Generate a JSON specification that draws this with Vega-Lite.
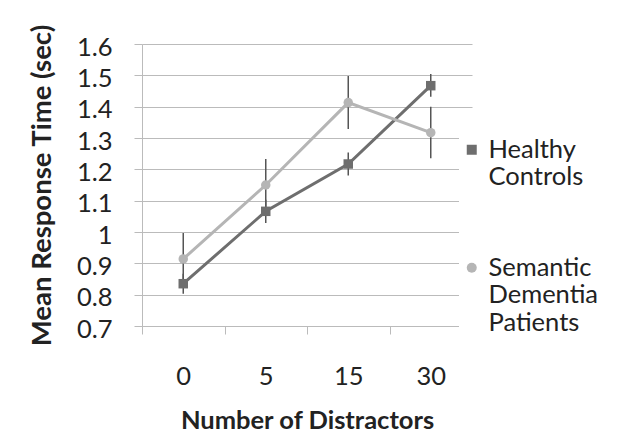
{
  "$schema": "https://vega.github.io/schema/vega-lite/v6.json",
  "width": 330,
  "height": 282,
  "autosize": "none",
  "padding": {"left": 142, "top": 44, "right": 146, "bottom": 110},
  "background": "white",
  "config": {
    "view": {"stroke": null},
    "font": "Lato",
    "axis": {"labelColor": "#222", "titleColor": "#222", "domainColor": "#bbb", "tickColor": "#bbb", "gridColor": "#bbb"},
    "axisY": {
      "values": [0.7, 0.8, 0.9, 1, 1.1, 1.2, 1.3, 1.4, 1.5, 1.6],
      "format": "~g",
      "labelOverlap": false,
      "tickSize": 8,
      "labelFontSize": 25.5,
      "labelPadding": 22,
      "labelOffset": 3,
      "titleFontSize": 27.5,
      "titleFontWeight": "bold",
      "titlePadding": 20
    }
  },
  "data": {
    "values": [
      {"group": "Healthy Controls", "distractors": "0", "mean": 0.835, "lo": 0.803, "hi": 0.867},
      {"group": "Healthy Controls", "distractors": "5", "mean": 1.066, "lo": 1.029, "hi": 1.103},
      {"group": "Healthy Controls", "distractors": "15", "mean": 1.217, "lo": 1.18, "hi": 1.254},
      {"group": "Healthy Controls", "distractors": "30", "mean": 1.467, "lo": 1.432, "hi": 1.504},
      {"group": "Semantic Dementia Patients", "distractors": "0", "mean": 0.914, "lo": 0.831, "hi": 0.997},
      {"group": "Semantic Dementia Patients", "distractors": "5", "mean": 1.15, "lo": 1.067, "hi": 1.233},
      {"group": "Semantic Dementia Patients", "distractors": "15", "mean": 1.413, "lo": 1.329, "hi": 1.498},
      {"group": "Semantic Dementia Patients", "distractors": "30", "mean": 1.317, "lo": 1.235, "hi": 1.4}
    ]
  },
  "encoding": {
    "x": {
      "field": "distractors",
      "type": "ordinal",
      "sort": ["0", "5", "15", "30"],
      "scale": {"paddingInner": 0, "paddingOuter": 0},
      "axis": {
        "title": "Number of Distractors",
        "labelAngle": 0,
        "tickBand": "extent",
        "tickSize": 8,
        "labelFontSize": 25.5,
        "labelPadding": 30,
        "titleFontSize": 25.5,
        "titleFontWeight": "bold",
        "titlePadding": 19
      }
    }
  },
  "layer": [
    {
      "mark": {"type": "rule", "color": "#555", "strokeWidth": 1.5},
      "encoding": {
        "y": {
          "field": "lo",
          "type": "quantitative",
          "scale": {"domain": [0.7, 1.6], "nice": false, "zero": false},
          "title": "Mean Response Time (sec)"
        },
        "y2": {"field": "hi"}
      }
    },
    {
      "mark": {"type": "line", "strokeWidth": 3},
      "encoding": {
        "y": {"field": "mean", "type": "quantitative", "scale": {"domain": [0.7, 1.6], "nice": false, "zero": false}, "title": "Mean Response Time (sec)"},
        "color": {
          "field": "group",
          "type": "nominal",
          "scale": {"domain": ["Healthy Controls", "Semantic Dementia Patients"], "range": ["#6e6e6e", "#b5b5b5"]}
        }
      }
    },
    {
      "mark": {"type": "point", "filled": true, "opacity": 1, "size": 90},
      "encoding": {
        "y": {"field": "mean", "type": "quantitative", "scale": {"domain": [0.7, 1.6], "nice": false, "zero": false}, "title": "Mean Response Time (sec)"},
        "color": {
          "field": "group",
          "type": "nominal",
          "scale": {"domain": ["Healthy Controls", "Semantic Dementia Patients"], "range": ["#6e6e6e", "#b5b5b5"]},
          "legend": {
            "orient": "none",
            "legendX": 317,
            "legendY": 93,
            "title": null,
            "fillColor": "white",
            "padding": 0,
            "labelFontSize": 25.5,
            "labelColor": "#222",
            "labelOffset": 4,
            "symbolSize": 100,
            "symbolStrokeWidth": 0,
            "rowPadding": 64,
            "labelExpr": "datum.label == 'Healthy Controls' ? ['Healthy', 'Controls'] : ['Semantic', 'Dementia', 'Patients']"
          }
        },
        "shape": {
          "field": "group",
          "type": "nominal",
          "scale": {"domain": ["Healthy Controls", "Semantic Dementia Patients"], "range": ["square", "circle"]}
        }
      }
    }
  ]
}
